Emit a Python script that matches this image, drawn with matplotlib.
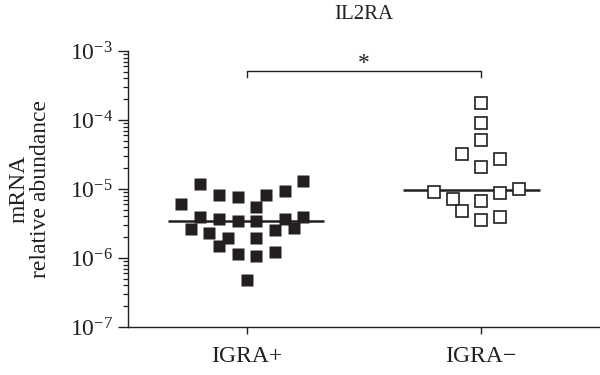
import numpy as np
import matplotlib
matplotlib.use("Agg")
import matplotlib.pyplot as plt
import matplotlib.transforms as mtransforms
from matplotlib.ticker import LogLocator, LogFormatterMathtext, NullFormatter

plt.rcParams['font.family'] = ['Liberation Serif', 'DejaVu Serif']
plt.rcParams['mathtext.fontset'] = 'custom'
plt.rcParams['mathtext.rm'] = 'Liberation Serif'

# data
groups = ["IGRA+", "IGRA\u2212"]
igra_pos = [1.18e-5, 6.07e-6, 8.2e-6, 7.66e-6, 8.2e-6, 9.35e-6, 1.31e-5, 5.49e-6,
            3.93e-6, 3.67e-6, 3.44e-6, 3.44e-6, 3.67e-6, 3.93e-6, 2.63e-6, 2.30e-6,
            2.55e-6, 2.72e-6, 1.95e-6, 1.95e-6, 1.49e-6, 1.14e-6, 1.07e-6, 1.22e-6,
            4.8e-7]
igra_pos_slot = [-5, -7, -3, -1, 2, 4, 6, 1, -5, -3, -1, 1, 4, 6, -6, -4,
                 3, 5, -2, 1, -3, -1, 1, 3, 0]
igra_neg = [1.76e-4, 9.05e-5, 5.13e-5, 3.22e-5, 2.72e-5, 2.08e-5, 9.05e-6, 8.75e-6,
            1.0e-5, 7.16e-6, 6.7e-6, 4.80e-6, 3.56e-6, 3.93e-6]
igra_neg_slot = [0, 0, 0, -2, 2, 0, -5, 2, 4, -3, 0, -2, 0, 2]

ink = "#231f20"
step = 0.0402

fig = plt.figure(figsize=(6, 3.75), dpi=100)
ax = fig.add_axes([0.2133, 0.128, 0.7867, 0.736])

ax.plot(0 + step * np.array(igra_pos_slot), igra_pos, 's', ms=9.2,
        color=ink, mec='none', clip_on=False, zorder=3)
ax.plot(1 + step * np.array(igra_neg_slot), igra_neg, 's', ms=8.6,
        mfc='white', mec=ink, mew=1.2, clip_on=False, zorder=3)

# median lines
ax.hlines(np.median(igra_pos), -0.338, 0.329, color=ink, lw=1.8, zorder=4)
ax.hlines(np.median(igra_neg), 1 - 0.333, 1 + 0.252, color=ink, lw=1.8, zorder=2)

ax.set_yscale('log')
ax.set_ylim(1e-7, 1e-3)
ax.set_xlim(-0.509, 1.509)
ax.yaxis.set_major_locator(LogLocator(base=10, numticks=10))
ax.yaxis.set_major_formatter(LogFormatterMathtext())
ax.yaxis.set_minor_locator(LogLocator(base=10, subs=np.arange(2, 10), numticks=10))
ax.yaxis.set_minor_formatter(NullFormatter())
ax.set_xticks([0, 1])
ax.set_xticklabels(groups)

for side in ['top', 'right']:
    ax.spines[side].set_visible(False)
for side in ['left', 'bottom']:
    ax.spines[side].set_color(ink)
    ax.spines[side].set_linewidth(1.0)

ax.tick_params(axis='y', which='major', length=7, width=1.0, color=ink,
               labelsize=17, pad=4, labelcolor=ink)
ax.tick_params(axis='y', which='minor', length=3.8, width=0.9, color=ink)
ax.tick_params(axis='x', length=5, width=1.0, color=ink, labelsize=17,
               pad=9, labelcolor=ink)

# significance bracket
trans = mtransforms.blended_transform_factory(ax.transData, ax.transAxes)
ax.plot([0, 0, 1, 1], [0.906, 0.9275, 0.9275, 0.906], color=ink, lw=1.0,
        transform=trans, clip_on=False)
ax.text(0.5, 0.955, "*", transform=trans, ha='center', va='center',
        fontsize=17, color=ink)

fig.text(0.6067, 0.962, "IL2RA", ha='center', va='center', fontsize=15, color=ink)
fig.text(0.05, 0.496, "mRNA\nrelative abundance", rotation=90, ha='center',
         va='center', fontsize=17, color=ink, linespacing=1.05)

fig.savefig("out.png", dpi=100)
